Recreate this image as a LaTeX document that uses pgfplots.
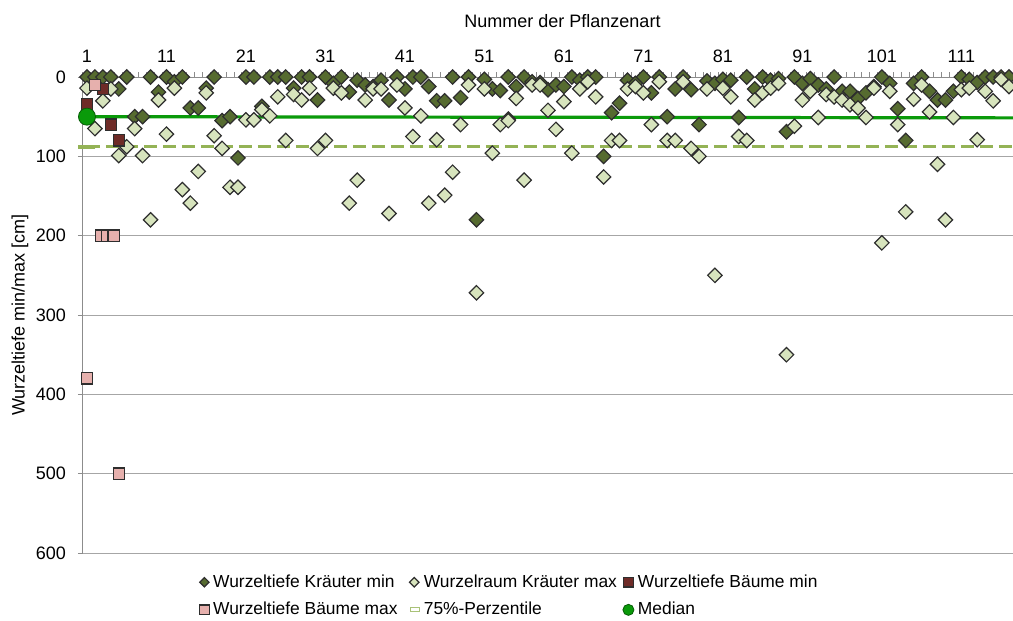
\documentclass[border=0pt]{standalone}
\usepackage{fontspec}
\setmainfont{Liberation Sans}
\usepackage{pgfplots}
\usepackage{pgfplotstable}
\pgfplotsset{compat=1.18}
\definecolor{cmin}{HTML}{566B30}
\definecolor{cmax}{HTML}{D7E4BD}
\definecolor{ctmin}{HTML}{6E2B27}
\definecolor{ctmax}{HTML}{E6B0AD}
\definecolor{cmed}{HTML}{0A9A0A}
\definecolor{cperc}{HTML}{94B356}
\definecolor{cedge}{HTML}{2E2E2E}
\definecolor{cgrid}{HTML}{A6A6A6}
\definecolor{caxis}{HTML}{8C8C8C}

% Wurzeltiefe Kraeuter min
\pgfplotstableread{
x y
1 0
2 0
3 0
4 0
5 15
6 0
7 50
8 50
9 0
10 19
11 0
12 6
13 0
14 39
15 39
16 14
17 0
18 55
19 50
20 102
21 0
22 0
23 37
24 0
25 0
26 0
27 14
28 0
29 0
30 29
31 0
32 8
33 0
34 19
35 4
36 10
37 12
38 4
39 29
40 0
41 15
42 0
43 0
44 12
45 30
46 30
47 0
48 26
49 0
50 180
51 3
52 15
53 17
54 53
54 0
55 12
56 0
57 6
58 7
59 16
60 10
61 12
62 0
63 4
64 0
65 0
66 100
67 45
68 33
69 4
70 8
71 0
72 20
73 0
74 50
75 15
76 0
77 16
78 60
79 5
80 8
81 3
82 4
83 51
84 0
85 15
86 0
87 4
88 2
89 69
90 0
91 8
92 2
93 10
94 15
95 0
96 18
97 18
98 27
99 20
100 12
101 0
102 8
103 40
104 80
105 8
106 0
107 18
108 29
109 29
110 18
111 0
112 3
113 7
114 0
115 0
116 0
117 0
}\herbmin

% Wurzelraum Kraeuter max
\pgfplotstableread{
x y
1 14
2 65
3 30
4 15
5 99
6 88
7 65
8 99
9 180
10 29
11 72
12 14
13 142
14 159
15 119
16 20
17 74
18 90
19 139
20 139
21 54
22 54
23 41
24 49
25 25
26 80
27 22
28 29
29 14
30 90
31 80
32 14
33 20
34 159
35 130
36 29
37 15
38 15
39 172
40 10
41 39
42 75
43 49
44 159
45 79
46 149
47 120
48 60
49 10
50 272
51 15
52 96
53 60
54 55
55 27
56 130
57 10
58 10
59 42
60 66
61 31
62 96
63 15
64 6
65 25
66 126
67 80
68 80
69 15
70 12
71 20
72 60
73 6
74 80
75 80
76 6
77 90
78 100
79 15
80 250
81 14
82 25
83 75
84 80
85 29
86 20
87 14
88 8
89 350
90 62
91 29
92 18
93 51
94 22
95 25
96 29
97 35
98 39
99 51
100 14
101 209
102 18
103 60
104 170
105 28
106 10
107 44
108 110
109 180
110 51
111 16
112 14
113 79
114 18
115 30
116 3
117 12
}\herbmax

% Wurzeltiefe Baeume min
\pgfplotstableread{
x y
1 34
3 15
4 60
5 80
}\treemin

% Wurzeltiefe Baeume max
\pgfplotstableread{
x y
1 380
2 10
2.75 200
3.55 200
4.35 200
5 500
}\treemax

\begin{document}
\begin{tikzpicture}
\begin{axis}[
  at={(0pt,0pt)}, anchor=south west,
  scale only axis, width=465pt, height=238pt,
  xmin=0.5, xmax=117.5, ymin=0, ymax=600,
  y dir=reverse,
  axis x line*=top, axis y line*=left,
  axis line style={caxis, line width=0.5pt},
  xtick={1,11,...,111},
  minor xtick={0.5,1.5,...,117.5},
  major x tick style={draw=none},
  minor x tick style={caxis, line width=0.5pt},
  minor tick length=2.5pt,
  ytick={0,100,...,600},
  major tick length=2.5pt,
  tick align=outside,
  ytick style={caxis, line width=0.5pt},
  ymajorgrids, grid style={cgrid, line width=0.5pt},
  font=\fontsize{9}{11}\selectfont,
  /pgf/number format/assume math mode=true,
  xticklabel style={anchor=base, yshift=5pt},
  yticklabel style={xshift=-2.5pt},
  xlabel={Nummer der Pflanzenart},
  xlabel style={at={(axis description cs:0.5156,1.105)}, anchor=base},
  ylabel={Wurzeltiefe min/max [cm]},
  ylabel style={at={(axis description cs:-0.0677,0.5)}, anchor=center},
  legend columns=3,
  legend cell align=left,
  legend style={at={(axis description cs:0.125,-0.04)}, anchor=north west,
    draw=none, fill=none, inner sep=0pt, row sep=4pt,
    font=\fontsize{8.7}{10}\selectfont,
    nodes={inner xsep=2pt, inner ysep=1pt},
    /tikz/column 2/.style={column sep=4pt},
    /tikz/column 4/.style={column sep=1pt}},
  legend image code/.code={\draw[mark repeat=2,mark phase=2,#1] plot coordinates {(0pt,0pt) (3pt,0pt) (6pt,0pt)};},
]
\addplot[only marks, mark=square*, mark size=2.55pt,
  mark options={rotate=45, fill=cmin, draw=cedge, line width=0.6pt},
  legend image post style={every mark/.append style={scale=0.65}}]
  table[x=x, y=y] {\herbmin};
\addlegendentry{Wurzeltiefe Kräuter min}
\addplot[only marks, mark=square*, mark size=2.55pt,
  mark options={rotate=45, fill=cmax, draw=cedge, line width=0.6pt},
  legend image post style={every mark/.append style={scale=0.65}}]
  table[x=x, y=y] {\herbmax};
\addlegendentry{Wurzelraum Kräuter max}
\addplot[only marks, mark=square*, mark size=2.8pt,
  mark options={fill=ctmin, draw=cedge, line width=0.6pt},
  legend image post style={every mark/.append style={scale=0.85}}]
  table[x=x, y=y] {\treemin};
\addlegendentry{Wurzeltiefe Bäume min}
\addplot[only marks, mark=square*, mark size=2.8pt,
  mark options={fill=ctmax, draw=cedge, line width=0.6pt},
  legend image post style={every mark/.append style={scale=0.85}}]
  table[x=x, y=y] {\treemax};
\addlegendentry{Wurzeltiefe Bäume max}
\addplot[cperc, line width=1.6pt, dash pattern=on 6.5pt off 3pt, forget plot]
  coordinates {(1,88) (117.5,88)};
\addplot[only marks, mark=-, mark size=4.25pt,
  mark options={cperc, line width=2pt},
  legend image code/.code={\draw[cperc!80, fill=white, line width=0.6pt] (1pt,-1pt) rectangle (5.5pt,1pt);}]
  coordinates {(1,88)};
\addlegendentry{75\%-Perzentile}
\addplot[cmed, line width=1.6pt, forget plot]
  coordinates {(1,50) (117.5,51.5)};
\addplot[only marks, mark=*, mark size=4.25pt,
  mark options={fill=cmed, draw=cmed!60!black, line width=0.4pt},
  legend image post style={every mark/.append style={scale=0.65}}]
  coordinates {(1,50)};
\addlegendentry{Median}
\end{axis}
\pgfresetboundingbox
\path[use as bounding box] (-41.5pt,-34pt) rectangle (465pt,276.5pt);
\end{tikzpicture}
\end{document}
